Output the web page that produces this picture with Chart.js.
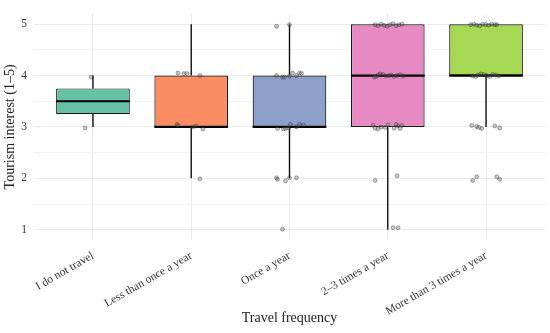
<!DOCTYPE html>
<html>
<head>
<meta charset="utf-8">
<script src="https://cdn.jsdelivr.net/npm/chart.js@4.4.1/dist/chart.umd.min.js"></script>
<style>
  html, body { margin: 0; padding: 0; background: #fff; }
  #wrap { width: 550px; height: 333px; }
</style>
</head>
<body>
<div id="wrap"><canvas id="box-chart"></canvas></div>
<script>
// Categories and box statistics
var categories = ["I do not travel", "Less than once a year", "Once a year", "2\u20133 times a year", "More than 3 times a year"];
var colors = ["#66C2A5", "#FC8D62", "#8DA0CB", "#E78AC3", "#A6D854"];
var q1 = [3.25, 3, 3, 3, 4];
var median = [3.5, 3, 3, 4, 4];
var q3 = [3.75, 4, 4, 5, 5];
var whiskerLow = [3, 2, 2, 1, 3];
var whiskerHigh = [4, 5, 5, 5, 5];
var yTicks = [1, 1.5, 2, 2.5, 3, 3.5, 4, 4.5, 5];

// Jittered responses: [offset from category centre, value]
var pointsNone = [[-0.02, 3.97], [-0.08, 2.98]];
var pointsLess = [[-0.135, 4.05], [-0.074, 4.04], [-0.044, 4.04], [0.089, 4.0], [-0.145, 3.05], [-0.135, 3.03],
    [0.017, 3.0], [0.048, 3.02], [0.119, 2.96], [0.089, 1.99]];
var pointsOnce = [[-0.132, 4.96], [0, 4.99], [-0.132, 4.0], [-0.071, 3.97], [-0.051, 3.97], [0, 3.99], [0.031, 4.05],
    [0.071, 4.0], [0.102, 4.05], [0.122, 4.04], [-0.122, 2.97], [-0.061, 2.96], [-0.041, 2.97], [-0.01, 2.98],
    [0.01, 3.05], [0.071, 3.0], [0.102, 3.05], [0.142, 3.04], [-0.132, 2.01], [-0.122, 1.98], [-0.041, 1.95],
    [0, 2.01], [0.071, 2.01], [-0.071, 1.01]];
var pointsTwoThree = [[-0.129, 4.99], [-0.099, 4.97], [-0.068, 5.0], [-0.038, 4.98], [-0.007, 4.96], [0.023, 4.99],
    [0.054, 5.01], [0.085, 4.97], [0.115, 4.99], [0.145, 5.0],
    [-0.139, 3.97], [-0.119, 3.98], [-0.099, 4.01], [-0.078, 4.03], [-0.048, 4.02], [-0.017, 3.99], [0.013, 4.0],
    [0.034, 4.01], [0.064, 3.98], [0.095, 4.0], [0.125, 4.02], [0.156, 3.99],
    [-0.15, 3.03], [-0.129, 2.98], [-0.099, 2.96], [-0.068, 3.0], [-0.027, 2.99], [0.003, 3.04], [0.064, 2.98],
    [0.085, 3.05], [0.105, 3.02], [0.125, 2.97], [0.145, 3.03],
    [-0.129, 1.96], [0.095, 2.05], [0.054, 1.04], [0.105, 1.04]];
var pointsMore = [[-0.156, 4.99], [-0.125, 5.0], [-0.095, 4.98], [-0.064, 4.97], [-0.034, 5.0], [-0.003, 4.99],
    [0.027, 4.98], [0.058, 5.0], [0.089, 4.99], [0.109, 4.99],
    [-0.135, 3.99], [-0.105, 3.98], [-0.084, 4.01], [-0.054, 4.03], [-0.023, 4.02], [0.007, 4.0], [0.038, 3.98],
    [0.068, 4.02], [0.099, 4.01], [0.129, 3.99],
    [-0.145, 3.03], [-0.095, 3.01], [-0.074, 2.99], [-0.044, 2.97], [0.089, 3.02], [0.139, 2.98],
    [-0.135, 1.96], [-0.095, 2.03], [0.109, 2.03], [0.139, 1.98]];
var groupPoints = [pointsNone, pointsLess, pointsOnce, pointsTwoThree, pointsMore];

var halfBox = 0.375;
var boxes = [], whiskers = [], medians = [], jitter = [];
for (var i = 0; i < categories.length; i++) {
    var x = i + 1;
    boxes.push({ x: x, y: [q1[i], q3[i]] });
    whiskers.push({ x: x, y: whiskerLow[i] }, { x: x, y: q1[i] }, { x: x, y: null });
    whiskers.push({ x: x, y: q3[i] }, { x: x, y: whiskerHigh[i] }, { x: x, y: null });
    medians.push({ x: x - halfBox, y: median[i] }, { x: x + halfBox, y: median[i] }, { x: x, y: null });
    groupPoints[i].forEach(function(p) {
        jitter.push({ x: x + p[0], y: p[1] });
    });
}

var font = "'Liberation Serif', 'DejaVu Serif', serif";
var ctx = document.getElementById("box-chart");

var myChart = new Chart(ctx, {
    type: 'bar',
    data: {
        datasets: [{
            type: 'scatter',
            data: jitter,
            backgroundColor: 'rgba(90,90,90,0.35)',
            borderColor: 'rgba(50,50,50,0.45)',
            borderWidth: 0.8,
            pointRadius: 2,
            order: 0
        }, {
            type: 'line',
            data: medians,
            borderColor: '#000',
            borderWidth: 2.2,
            pointRadius: 0,
            spanGaps: false,
            order: 1
        }, {
            type: 'line',
            data: whiskers,
            borderColor: '#111',
            borderWidth: 1.4,
            pointRadius: 0,
            spanGaps: false,
            order: 2
        }, {
            type: 'bar',
            data: boxes,
            backgroundColor: colors,
            borderColor: '#1a1a1a',
            borderWidth: 1.2,
            borderSkipped: false,
            barPercentage: 0.75,
            categoryPercentage: 1,
            grouped: false,
            order: 3
        }]
    },
    options: {
        responsive: true,
        maintainAspectRatio: false,
        animation: false,
        layout: { padding: { top: 10, right: 5 } },
        plugins: { legend: { display: false }, tooltip: { enabled: false } },
        scales: {
            x: {
                type: 'linear',
                min: 0.4,
                max: 5.6,
                offset: false,
                afterBuildTicks: function(scale) {
                    scale.ticks = categories.map(function(c, i) { return { value: i + 1 }; });
                },
                afterFit: function(scale) { scale.height = 93; },
                ticks: {
                    callback: function(v) { return categories[v - 1]; },
                    minRotation: 30,
                    maxRotation: 30,
                    padding: 9,
                    color: '#333',
                    font: { family: font, size: 11.5 }
                },
                grid: { color: '#ebebeb', drawTicks: false, offset: false },
                border: { display: false },
                title: {
                    display: true,
                    text: 'Travel frequency',
                    color: '#222',
                    font: { family: font, size: 14 },
                    padding: { top: 4, bottom: 6 }
                }
            },
            y: {
                min: 0.8,
                max: 5.2,
                afterBuildTicks: function(scale) {
                    scale.ticks = yTicks.map(function(v) { return { value: v }; });
                },
                afterFit: function(scale) { scale.width = 34; },
                ticks: {
                    callback: function(v) { return Number.isInteger(v) ? v : ''; },
                    padding: 7,
                    color: '#333',
                    font: { family: font, size: 11.5 }
                },
                grid: {
                    drawTicks: false,
                    color: function(c) { return Number.isInteger(c.tick.value) ? '#ebebeb' : '#f3f3f3'; }
                },
                border: { display: false },
                title: {
                    display: true,
                    text: 'Tourism interest (1\u20135)',
                    color: '#222',
                    font: { family: font, size: 14 },
                    padding: { top: 2, bottom: 2 }
                }
            }
        }
    }
});
</script>
</body>
</html>
